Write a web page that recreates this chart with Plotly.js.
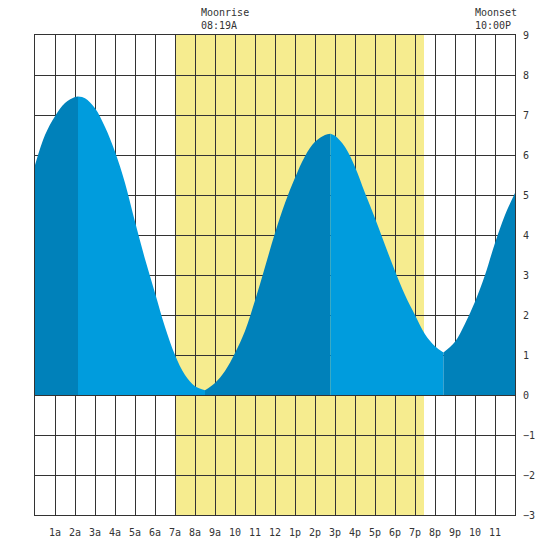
<!DOCTYPE html>
<html>
<head>
<meta charset="utf-8">
<script src="https://cdn.plot.ly/plotly-3.0.1.min.js"></script>
<style>html,body{margin:0;padding:0;background:#fff;}#chart{width:550px;height:550px;}</style>
</head>
<body>
<div id="chart"></div>
<script>
const tideHours = [0,0.5,1,1.5,2,2.15,2.5,3,3.5,4,4.5,5,5.5,6,6.5,7,7.5,8,8.5,9,9.5,10,10.5,11,11.5,12,12.5,13,13.5,14,14.5,14.77,15,15.5,16,16.5,17,17.5,18,18.5,19,19.5,20,20.42,21,21.5,22,22.5,23,23.5,24];
const tideHeights = [5.75,6.5,6.97,7.3,7.45,7.46,7.42,7.17,6.7,6.08,5.3,4.33,3.4,2.55,1.7,1.0,0.5,0.22,0.12,0.3,0.6,1.05,1.6,2.36,3.2,4.05,4.8,5.43,5.97,6.33,6.5,6.53,6.48,6.2,5.7,5.05,4.42,3.75,3.1,2.5,2.0,1.52,1.22,1.06,1.33,1.78,2.33,3.0,3.8,4.5,5.05];
const extremaHours = [2.15, 8.5, 14.77, 20.42];
const daylight = [7.0, 19.45];
const moonrise = {hour: 8.317, label: "Moonrise<br>08:19A"};
const moonset = {hour: 22.0, label: "Moonset<br>10:00P"};
const tickHours = [1,2,3,4,5,6,7,8,9,10,11,12,13,14,15,16,17,18,19,20,21,22,23];
const tickLabels = ["1a","2a","3a","4a","5a","6a","7a","8a","9a","10","11","12","1p","2p","3p","4p","5p","6p","7p","8p","9p","10","11"];
const yTicks = [-3,-2,-1,0,1,2,3,4,5,6,7,8,9];

const darkBlue = "#0081BA", lightBlue = "#009CDD";
const bounds = [0, ...extremaHours, 24];
const traces = [];
for (let i = 0; i < bounds.length - 1; i++) {
  const xs = [], ys = [];
  tideHours.forEach((h, k) => {
    if (h >= bounds[i] - 1e-9 && h <= bounds[i+1] + 1e-9) { xs.push(h); ys.push(tideHeights[k]); }
  });
  const c = i % 2 === 0 ? darkBlue : lightBlue;
  traces.push({x: xs, y: ys, type: "scatter", mode: "lines", line: {width: 0, shape: "spline", color: c},
    fill: "tozeroy", fillcolor: c, hoverinfo: "skip", showlegend: false});
}

const font = {family: "DejaVu Sans Mono, monospace", size: 10, color: "#333"};
const layout = {
  width: 550, height: 550,
  margin: {l: 35, r: 35, t: 35, b: 35},
  paper_bgcolor: "#fff", plot_bgcolor: "#fff",
  font: font,
  showlegend: false,
  xaxis: {range: [0, 24], tickvals: tickHours, ticktext: tickLabels, showgrid: true, gridcolor: "#333", gridwidth: 1,
    zeroline: false, showline: true, mirror: true, linecolor: "#333", linewidth: 1, ticks: "", ticklabelstandoff: 8,
    tickfont: font, fixedrange: true},
  yaxis: {range: [-3, 9], side: "right", tickvals: yTicks, showgrid: true, gridcolor: "#333", gridwidth: 1,
    zeroline: false, showline: true, mirror: true, linecolor: "#333", linewidth: 1, ticks: "", ticklabelstandoff: 5,
    tickfont: font, fixedrange: true},
  shapes: [{type: "rect", xref: "x", yref: "paper", x0: daylight[0], x1: daylight[1], y0: 0, y1: 1,
    fillcolor: "#F6EC8F", line: {width: 0}, layer: "below"}],
  annotations: [moonrise, moonset].map(m => ({x: m.hour, xref: "x", y: 1, yref: "paper", xanchor: "left", yanchor: "bottom",
    xshift: -2, yshift: 2, text: m.label, showarrow: false, align: "left", font: font}))
};
Plotly.newPlot("chart", traces, layout, {staticPlot: true, displayModeBar: false});
</script>
</body>
</html>
